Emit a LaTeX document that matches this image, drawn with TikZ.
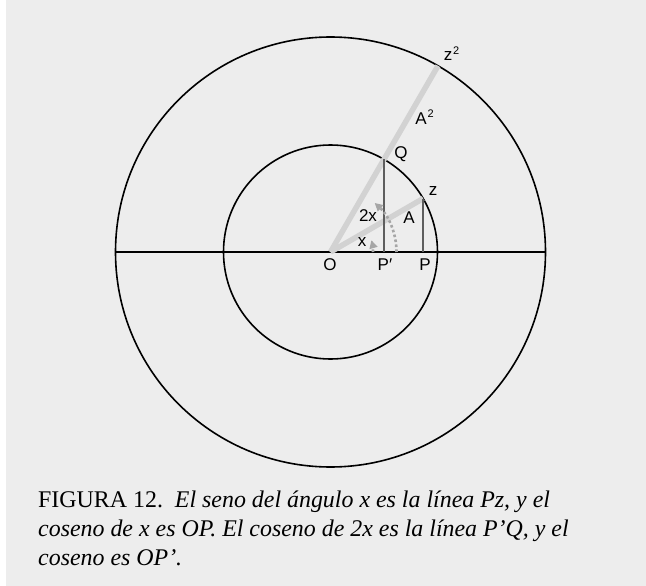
\documentclass[tikz,border=0pt]{standalone}
\usepackage{fontspec}
\setmainfont{Liberation Serif}
\newfontfamily\labfont{Liberation Sans}
\usetikzlibrary{arrows.meta,calc}
\definecolor{bgc}{HTML}{EDEDED}
\definecolor{rayc}{HTML}{D2D2D2}
\definecolor{legc}{HTML}{5E5E5E}
\definecolor{dotc}{HTML}{A6A6A6}
\tikzset{
  circ/.style={draw=black, line width=1.6pt},
  ray/.style={draw=rayc, line width=5.5pt},
  leg/.style={draw=legc, line width=1.8pt},
  dotarc/.style={draw=dotc, line width=2.6pt, dash pattern=on 2.6pt off 2.4pt,
     -{Triangle[length=8pt,width=8pt,fill=dotc]}},
  lab/.style={font=\labfont\fontsize{17}{20}\selectfont, inner sep=0pt},
  sup/.style={font=\labfont\fontsize{11}{12}\selectfont, inner sep=0pt, anchor=south west},
}
\begin{document}
\begin{tikzpicture}[x=1pt,y=-1pt]
\fill[white] (0,0) rectangle (646,586);
\fill[bgc] (6,0) rectangle (646,586);
\useasboundingbox (0,0) rectangle (646,586);
\coordinate (O) at (330.5,252);
\coordinate (Z) at (423.2,198.5);
\coordinate (Q) at (384,159.3);
\coordinate (Z2) at (438,65.8);
\coordinate (Pp) at (384,252);
\coordinate (P) at (423.2,252);
\coordinate (L) at (115.5,252);
\coordinate (R) at (545.5,252);
\coordinate (S1) at (373,252);
\coordinate (S2) at (396.5,252);
% circles
\draw[circ] (O) circle[radius=215];
\draw[circ] (O) circle[radius=107];
\draw[black, line width=2.4pt] (L) -- (R);
% rays
\draw[ray] (O) -- (Z);
\draw[ray] (O) -- (Z2);
% legs
\draw[leg] (Pp) -- (Q);
\draw[leg] (P) -- (Z);
% dotted arcs
\draw[dotarc] (S1) arc[start angle=0, end angle=-16, radius=42.5];
\draw[dotarc] (S2) arc[start angle=0, end angle=-48, radius=66];
% labels
\node[lab] (lO) at (330,265) {O};
\node[lab] (lPp) at (385,265) {P′};
\node[lab] (lP) at (425,265) {P};
\node[lab] (lQ) at (401,154) {Q};
\node[lab] (lz) at (433,191) {z};
\node[lab] (lA) at (409,218) {A};
\node[lab] (l2x) at (368,216) {2x};
\node[lab] (lx) at (362,242) {x};
\node[lab] (lA2) at (421,119) {A};
\node[sup] (sA2) at ($(lA2.north east)+(0.5,5)$) {2};
\node[lab] (lz2) at (448,56) {z};
\node[sup] (sz2) at ($(lz2.north east)+(0.5,3)$) {2};
% caption
\node[anchor=north west, inner sep=0pt, align=left,
      font=\fontsize{23.9}{28.6}\selectfont] (cap) at (38,491)
  {FIGURA 12.\ \ \textit{El seno del ángulo x es la línea Pz, y el}\\
   \textit{coseno de x es OP. El coseno de 2x es la línea P’Q, y el}\\
   \textit{coseno es OP’.}};
\end{tikzpicture}
\end{document}
